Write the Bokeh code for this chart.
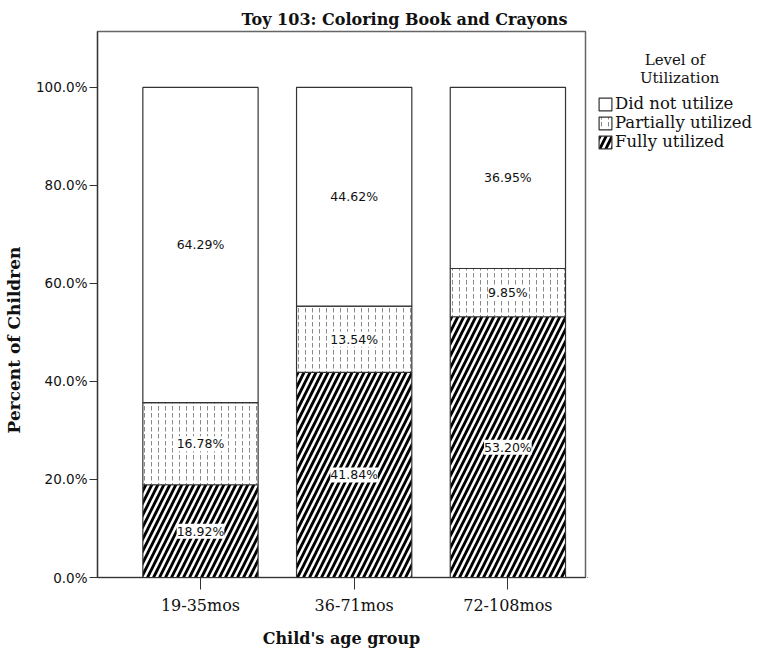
from bokeh.plotting import figure
from bokeh.models import (ColumnDataSource, Range1d, FixedTicker, LabelSet,
                          Legend, LegendItem)
from bokeh.layouts import row
from bokeh.core.properties import value
from bokeh.embed import file_html
from bokeh.resources import INLINE

# ---- data ----
categories = ["19-35mos", "36-71mos", "72-108mos"]
fully = [18.92, 41.84, 53.20]
partial = [16.78, 13.54, 9.85]
not_util = [64.29, 44.62, 36.95]
series_names = ["Fully utilized", "Partially utilized", "Did not utilize"]
y_ticks = [0, 20, 40, 60, 80, 100]
y_tick_labels = ["0.0%", "20.0%", "40.0%", "60.0%", "80.0%", "100.0%"]

xs = list(range(1, len(categories) + 1))
source = ColumnDataSource(dict(x=xs, fully=fully, partial=partial, not_util=not_util))

SERIF = "DejaVu Serif"
SANS = "DejaVu Sans"
INK = "#111111"
NB = "\u00a0"

FIG_H = 650
FRAME_BOTTOM = 578
styles = dict(fill_color="white", line_color="#333333", line_width=1.2)
patterns = ["right_diagonal_line", "vertical_dash", "blank"]
hcolors = ["black", "#8a8a8a", "white"]
hscales = [12, 7, 1]
hweights = [2.8, 1, 1]

p = figure(width=587, height=FIG_H, output_backend="svg", toolbar_location=None,
           x_range=Range1d(0.33, 3.505), y_range=Range1d(0, 111.4),
           min_border_left=97, min_border_right=2, min_border_top=31,
           min_border_bottom=FIG_H - FRAME_BOTTOM)
p.background_fill_color = "white"
p.border_fill_color = "white"
p.outline_line_color = "#666666"
p.outline_line_width = 1.5
p.grid.visible = False

# title
p.title.text = "Toy 103: Coloring Book and Crayons"
p.title.align = "left"
p.title.offset = 144
p.title.text_font = SERIF
p.title.text_font_style = "bold"
p.title.text_font_size = "16px"
p.title.text_color = INK
p.title.standoff = 5

renderers = p.vbar_stack(["fully", "partial", "not_util"], x="x", width=0.75, source=source,
                         hatch_pattern=patterns, hatch_color=hcolors,
                         hatch_scale=hscales, hatch_weight=hweights, **styles)

# segment labels
mids, texts, lx = [], [], []
for i, xv in enumerate(xs):
    base = 0.0
    for vals in (fully, partial, not_util):
        v = vals[i]
        mids.append(base + v / 2.0)
        texts.append("%.2f%%" % v)
        lx.append(xv)
        base += v
lab_src = ColumnDataSource(dict(x=lx, y=mids, t=texts))
p.add_layout(LabelSet(x="x", y="y", text="t", source=lab_src, text_align="center",
                      text_baseline="middle", text_font=value(SANS),
                      text_font_size=value("12.5px"),
                      text_color=INK, background_fill_color="white"))

# axes
p.xaxis.ticker = FixedTicker(ticks=xs)
p.xaxis.major_label_overrides = {x: c for x, c in zip(xs, categories)}
p.xaxis.major_label_text_font = SERIF
p.xaxis.major_label_text_font_size = "16px"
p.xaxis.major_label_text_color = INK
p.xaxis.major_tick_out = 12
p.xaxis.major_tick_in = 0
p.xaxis.minor_tick_line_color = None
p.xaxis.major_label_standoff = 6
p.xaxis.axis_label = "Child's age group"
p.xaxis.axis_label_text_font = SERIF
p.xaxis.axis_label_text_font_style = "bold"
p.xaxis.axis_label_text_font_size = "16px"
p.xaxis.axis_label_text_color = INK
p.xaxis.axis_label_standoff = 11
p.xaxis.axis_line_color = "#333333"
p.xaxis.axis_line_width = 1.2
p.xaxis.major_tick_line_color = "#333333"

p.yaxis.ticker = FixedTicker(ticks=y_ticks)
p.yaxis.major_label_overrides = {t: l for t, l in zip(y_ticks, y_tick_labels)}
p.yaxis.major_label_text_font = SANS
p.yaxis.major_label_text_font_size = "13.5px"
p.yaxis.major_label_text_color = INK
p.yaxis.major_tick_out = 8
p.yaxis.major_tick_in = 0
p.yaxis.minor_tick_line_color = None
p.yaxis.major_label_standoff = 2
p.yaxis.axis_label = "Percent of Children" + NB * 12
p.yaxis.axis_label_text_font = SERIF
p.yaxis.axis_label_text_font_style = "bold"
p.yaxis.axis_label_text_font_size = "17px"
p.yaxis.axis_label_text_color = INK
p.yaxis.axis_label_standoff = 9
p.yaxis.axis_line_color = "#333333"
p.yaxis.axis_line_width = 1.2
p.yaxis.major_tick_line_color = "#333333"

# ---- legend panel (separate figure to the right) ----
lf = figure(width=173, height=FIG_H, output_backend="svg", toolbar_location=None,
            x_range=Range1d(0, 1), y_range=Range1d(0, 1),
            x_axis_location=None, y_axis_location=None,
            min_border_left=0, min_border_right=0, min_border_top=31,
            min_border_bottom=FIG_H - FRAME_BOTTOM)
lf.outline_line_color = None
lf.grid.visible = False
# legend swatches: one hidden bar per series, kept outside the visible range
swatches = []
for k in range(3):
    swatches.append(lf.vbar(x=[-5], top=[-5], bottom=[-6], width=0.5,
                            hatch_pattern=patterns[k], hatch_color=hcolors[k],
                            hatch_scale=hscales[k], hatch_weight=hweights[k], **styles))

items = [LegendItem(label=series_names[k], renderers=[swatches[k]]) for k in (2, 1, 0)]
legend_title = NB * 10 + "Level of\n" + NB * 9 + "Utilization"
legend = Legend(items=items, location=(10, FRAME_BOTTOM - 152), orientation="vertical",
                title=legend_title, title_text_line_height=1.0,
                title_text_font=SERIF, title_text_font_style="normal",
                title_text_font_size="15px", title_text_color=INK, title_standoff=7,
                glyph_width=16, glyph_height=16, label_standoff=2, spacing=-2,
                padding=0, margin=0, border_line_color=None, background_fill_alpha=0,
                label_text_font=SERIF, label_text_font_size="16.5px",
                label_text_line_height=0.85,
                label_text_color=INK, label_height=15)
lf.add_layout(legend, "center")

layout = row(p, lf, spacing=0)
open("out.html", "w").write(file_html(layout, INLINE))
